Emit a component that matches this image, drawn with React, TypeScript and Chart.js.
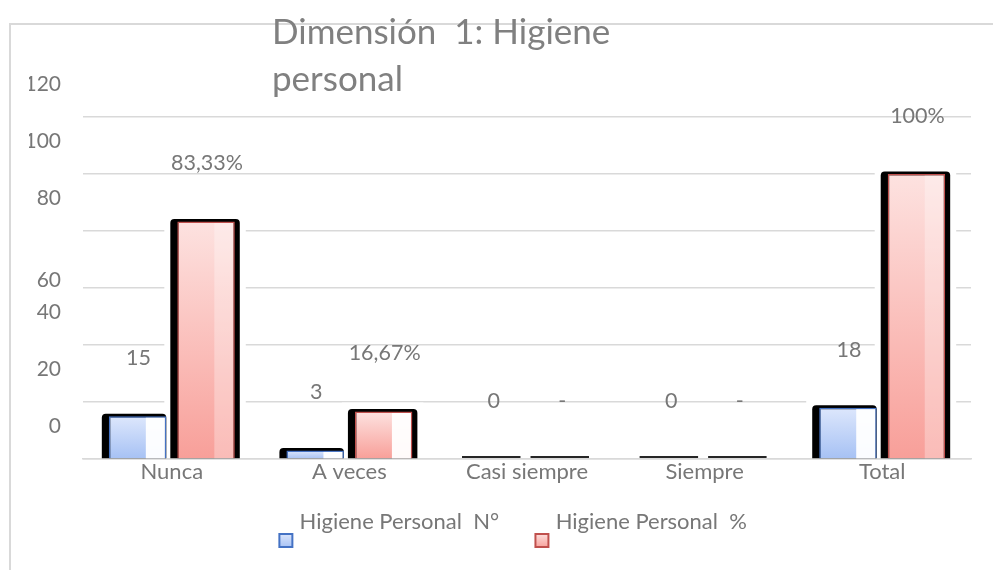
import React, { useEffect, useRef } from 'react';
import { Chart, registerables } from 'chart.js';

Chart.register(...registerables);

// ---- data ----
const categories = ['Nunca', 'A veces', 'Casi siempre', 'Siempre', 'Total'];
const countValues = [15, 3, 0, 0, 18];
const percentValues = [83.33, 16.67, 0, 0, 100];
const countLabels = ['15', '3', '0', '0', '18'];
const percentLabels = ['83,33%', '16,67%', '-', '-', '100%'];
const seriesNames = ['Higiene Personal  N°', 'Higiene Personal  %'];
const titleLines = ['Dimensión  1: Higiene', 'personal'];
const yMin = 0;
const yMax = 120;
const yStep = 20;

const FONT = 'Lato, "Noto Sans", sans-serif';
const TEXT = '#777777';

const BLUE = { top: '#dde7fc', bottom: '#a6c1f4', line: '#4472c4' };
const RED = { top: '#fde2e0', bottom: '#f89f99', line: '#c0504d' };

function makeLegendIcon(c: { top: string; bottom: string; line: string }) {
  const cv = document.createElement('canvas');
  cv.width = 47;
  cv.height = 53;
  const g = cv.getContext('2d')!;
  const grad = g.createLinearGradient(0, 38, 0, 53);
  grad.addColorStop(0, c.top);
  grad.addColorStop(1, c.bottom);
  g.fillStyle = grad;
  g.fillRect(32, 39, 13, 13);
  g.strokeStyle = c.line;
  g.lineWidth = 2;
  g.strokeRect(32, 39, 13, 13);
  return cv;
}

function barFill(c: { top: string; bottom: string }) {
  return (ctx: any) => {
    const chart = ctx.chart;
    const ys = chart.scales && chart.scales.y;
    if (!ys || ctx.type !== 'data') return c.bottom;
    const y0 = ys.getPixelForValue(ctx.raw);
    const y1 = ys.getPixelForValue(0);
    if (!(y1 - y0 > 1)) return '#262626';
    const g = chart.ctx.createLinearGradient(0, y0, 0, y1);
    g.addColorStop(0, c.top);
    g.addColorStop(1, c.bottom);
    return g;
  };
}

const excelDecor = {
  id: 'excelDecor',
  afterLayout(chart: any) {
    // let the legend icons (drawn below the text line) escape the legend clip
    const lg = chart.legend;
    if (lg) {
      lg.bottom += 14;
      lg.height += 14;
    }
  },
  beforeDraw(chart: any) {
    const ctx = chart.ctx;
    ctx.save();
    ctx.strokeStyle = '#d9d9d9';
    ctx.lineWidth = 2;
    ctx.beginPath();
    ctx.moveTo(10, chart.height);
    ctx.lineTo(10, 24);
    ctx.lineTo(chart.width, 24);
    ctx.stroke();
    ctx.fillStyle = '#808080';
    ctx.font = `400 35px ${FONT}`;
    ctx.textAlign = 'left';
    ctx.textBaseline = 'alphabetic';
    ctx.fillText(titleLines[0], 272, 44);
    ctx.fillText(titleLines[1], 272, 90.5);
    ctx.restore();
  },
  beforeDatasetsDraw(chart: any) {
    const ctx = chart.ctx;
    ctx.save();
    const metas = [0, 1].map((i) => chart.getDatasetMeta(i));
    // white halos
    metas.forEach((meta: any, di: number) => {
      meta.data.forEach((el: any) => {
        const L = el.x - el.width / 2;
        const R = el.x + el.width / 2;
        if (el.base - el.y < 1) return;
        const sL = L - 7;
        const sR = di === 1 ? R + 5 : R;
        ctx.fillStyle = '#ffffff';
        ctx.fillRect(sL - 6, el.y - 9, sR - sL + 12, el.base - 2 - (el.y - 9));
      });
    });
    // black shadows / zero lines
    metas.forEach((meta: any, di: number) => {
      meta.data.forEach((el: any) => {
        const L = el.x - el.width / 2;
        const R = el.x + el.width / 2;
        if (el.base - el.y < 1) {
          ctx.fillStyle = '#262626';
          ctx.fillRect(L - 2, el.base - 3, R - L + 1, 2);
          return;
        }
        const sL = L - 7;
        const sR = di === 1 ? R + 5 : R;
        ctx.fillStyle = '#000000';
        ctx.beginPath();
        if (ctx.roundRect) {
          ctx.roundRect(sL, el.y - 2.5, sR - sL, el.base - el.y + 2.5, [4, 4, 0, 0]);
        } else {
          ctx.rect(sL, el.y - 2.5, sR - sL, el.base - el.y + 2.5);
        }
        ctx.fill();
      });
    });
    ctx.restore();
  },
  afterDatasetsDraw(chart: any) {
    const ctx = chart.ctx;
    ctx.save();
    [0, 1].forEach((di) => {
      const meta = chart.getDatasetMeta(di);
      const labels = di === 0 ? countLabels : percentLabels;
      meta.data.forEach((el: any, i: number) => {
        const R = el.x + el.width / 2;
        const h = el.base - el.y;
        if (h > 1) {
          ctx.globalAlpha = h < 100 ? 0.95 : 0.3;
          ctx.fillStyle = '#ffffff';
          const w = el.width * 0.33;
          ctx.fillRect(R - 1.5 - w, el.y + 1.5, w, h - 1.5);
          ctx.globalAlpha = 1;
        }
        ctx.fillStyle = TEXT;
        ctx.font = `21.5px ${FONT}`;
        ctx.textAlign = 'center';
        ctx.textBaseline = 'middle';
        ctx.fillText(labels[i], el.x + 1, el.y - 58);
      });
    });
    ctx.restore();
  },
};

export default function App() {
  const ref = useRef<HTMLCanvasElement | null>(null);

  useEffect(() => {
    document.body.style.margin = '0';
    const canvas = ref.current;
    if (!canvas) return;
    const icons = [makeLegendIcon(BLUE), makeLegendIcon(RED)];
    const chart = new Chart(canvas, {
      type: 'bar',
      data: {
        labels: categories,
        datasets: [
          {
            label: seriesNames[0],
            data: countValues,
            backgroundColor: barFill(BLUE),
            borderColor: BLUE.line,
            borderWidth: 1.5,
            categoryPercentage: 0.7714,
            barPercentage: 0.839,
          },
          {
            label: seriesNames[1],
            data: percentValues,
            backgroundColor: barFill(RED),
            borderColor: RED.line,
            borderWidth: 1.5,
            categoryPercentage: 0.7714,
            barPercentage: 0.839,
          },
        ],
      },
      options: {
        responsive: false,
        animation: false,
        devicePixelRatio: 1,
        layout: { padding: { left: 29, right: 22, top: 117, bottom: 27.5 } },
        scales: {
          x: {
            grid: { display: false, drawTicks: false },
            border: { display: true, color: '#d9d9d9', width: 1.5 },
            ticks: {
              color: TEXT,
              font: { family: FONT, size: 22, lineHeight: 1.2 },
              padding: 0,
              autoSkip: false,
              maxRotation: 0,
            },
            afterFit: (s: any) => {
              s.height = 41.5;
            },
          },
          y: {
            min: yMin,
            max: yMax,
            grid: { color: '#d9d9d9', lineWidth: 1.5, drawTicks: false },
            border: { display: false },
            ticks: {
              stepSize: yStep,
              autoSkip: false,
              color: TEXT,
              padding: 22,
              font: { family: FONT, size: 21, lineHeight: '16.5px' as any },
              callback: (v: any) => {
                const s = String(v);
                return v === 60 ? [s, ''] : [s, '', '', '', ''];
              },
            },
            afterFit: (s: any) => {
              s.width = 54;
            },
          },
        },
        plugins: {
          title: { display: false },
          tooltip: { enabled: false },
          legend: {
            display: true,
            position: 'bottom',
            labels: {
              usePointStyle: true,
              pointStyleWidth: 35.5,
              padding: 10,
              color: TEXT,
              font: { family: FONT, size: 22 },
              generateLabels: (ch: any) =>
                ch.data.datasets.map((ds: any, i: number) => ({
                  text: ds.label,
                  pointStyle: icons[i],
                  fillStyle: 'transparent',
                  strokeStyle: 'transparent',
                  lineWidth: 0,
                  hidden: false,
                  datasetIndex: i,
                  fontColor: TEXT,
                })),
            },
          },
        },
      },
      plugins: [excelDecor],
    } as any);
    if ((document as any).fonts && (document as any).fonts.ready) {
      (document as any).fonts.ready.then(() => {
        try {
          chart.update();
        } catch (e) {
          /* ignore */
        }
      });
    }
    return () => chart.destroy();
  }, []);

  return (
    <div style={{ width: 993, height: 570 }}>
      <canvas ref={ref} width={993} height={570} style={{ display: 'block' }} />
    </div>
  );
}
